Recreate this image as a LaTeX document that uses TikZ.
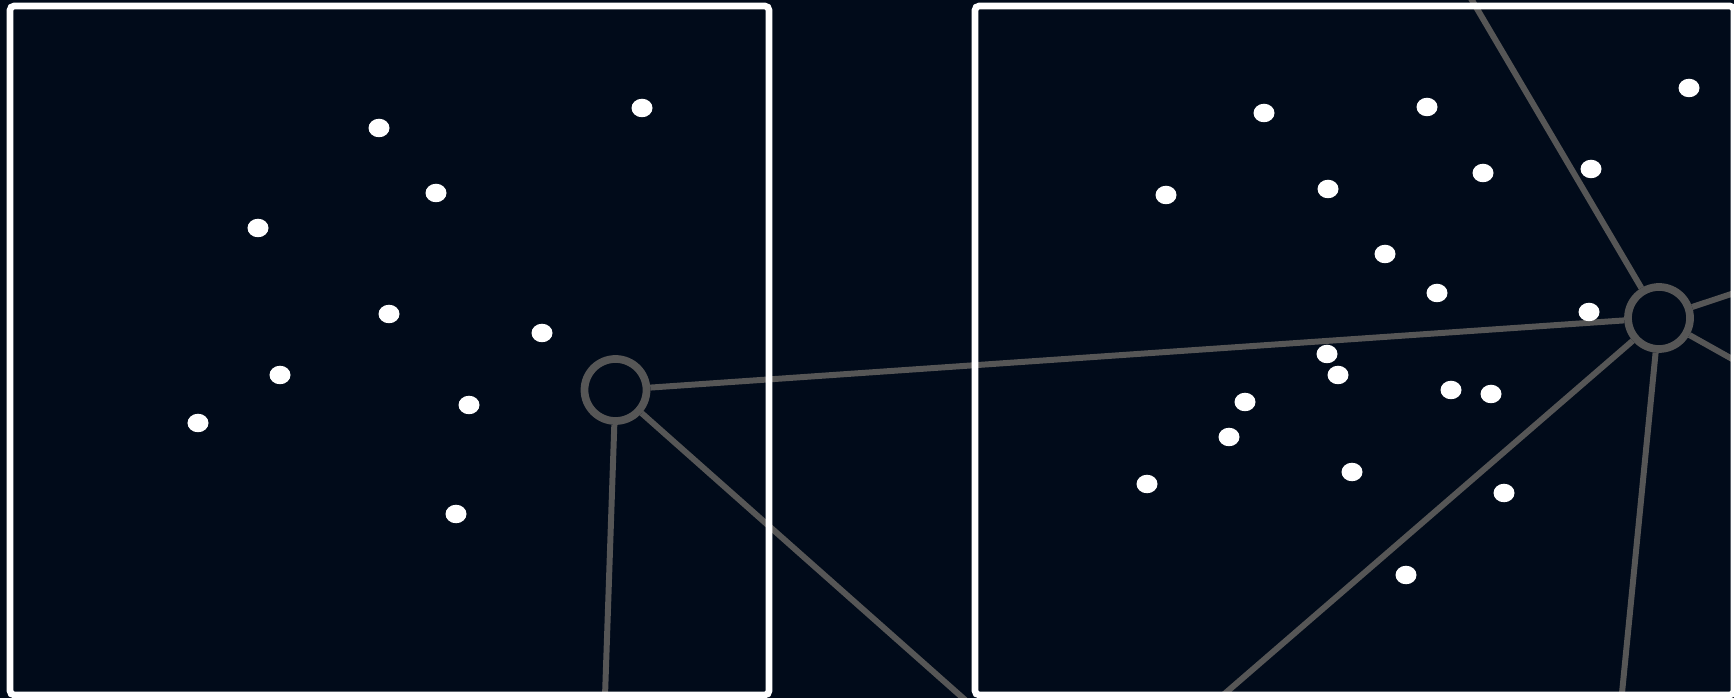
\documentclass[tikz,border=0pt]{standalone}
\usetikzlibrary{shapes.geometric}
\definecolor{fondo}{HTML}{010B1A}
\definecolor{gris}{HTML}{565656}

\begin{document}
\begin{tikzpicture}[x=0.01cm, y=-0.01cm,
    punto/.style={ellipse, fill=white, minimum width=0.21cm, minimum height=0.185cm, inner sep=0pt},
    anillo/.style={circle, draw=gris, line width=2.2pt, fill=fondo, minimum size=0.62cm, inner sep=0pt},
    enlace/.style={draw=gris, line width=1.7pt},
    marco/.style={draw=white, line width=1.9pt, rounded corners=1.2pt}]

  \fill[fondo] (0,0) rectangle (1734,698);
  \useasboundingbox (0,0) rectangle (1734,698);
  \clip (0,0) rectangle (1734,698);

  % nodos de la red
  \node[anillo] (na) at (615.5,390) {};
  \node[anillo] (nb) at (1659,318) {};

  % extremos fuera del cuadro
  \coordinate (sa) at (598,900);
  \coordinate (sb) at (1078,800);
  \coordinate (sc) at (1413,-100);
  \coordinate (sd) at (1900,238);
  \coordinate (se) at (1900,453);
  \coordinate (sf) at (1044,850);
  \coordinate (sg) at (1606.5,850);

  \draw[enlace] (na) -- (nb);
  \draw[enlace] (na) -- (sa);
  \draw[enlace] (na) -- (sb);
  \draw[enlace] (nb) -- (sc);
  \draw[enlace] (nb) -- (sd);
  \draw[enlace] (nb) -- (se);
  \draw[enlace] (nb) -- (sf);
  \draw[enlace] (nb) -- (sg);

  % puntos, cuadro izquierdo
  \node[punto] (i1) at (379,128) {};
  \node[punto] (i2) at (642,108) {};
  \node[punto] (i3) at (436,193) {};
  \node[punto] (i4) at (258,228) {};
  \node[punto] (i5) at (389,314) {};
  \node[punto] (i6) at (542,333) {};
  \node[punto] (i7) at (280,375) {};
  \node[punto] (i8) at (198,423) {};
  \node[punto] (i9) at (469,405) {};
  \node[punto] (i10) at (456,514) {};

  % puntos, cuadro derecho
  \node[punto] (d1) at (1264,113) {};
  \node[punto] (d2) at (1427,107) {};
  \node[punto] (d3) at (1689,88) {};
  \node[punto] (d4) at (1166,195) {};
  \node[punto] (d5) at (1328,189) {};
  \node[punto] (d6) at (1483,173) {};
  \node[punto] (d7) at (1591,169) {};
  \node[punto] (d8) at (1385,254) {};
  \node[punto] (d9) at (1437,293) {};
  \node[punto] (d10) at (1589,312) {};
  \node[punto] (d11) at (1327,354) {};
  \node[punto] (d12) at (1338,375) {};
  \node[punto] (d13) at (1245,402) {};
  \node[punto] (d14) at (1451,390) {};
  \node[punto] (d15) at (1491,394) {};
  \node[punto] (d16) at (1229,437) {};
  \node[punto] (d17) at (1147,484) {};
  \node[punto] (d18) at (1352,472) {};
  \node[punto] (d19) at (1504,493) {};
  \node[punto] (d20) at (1406,575) {};

  % marcos
  \draw[marco] (10,6) rectangle (769,695);
  \draw[marco] (975,6) rectangle (1734,695);
\end{tikzpicture}
\end{document}
